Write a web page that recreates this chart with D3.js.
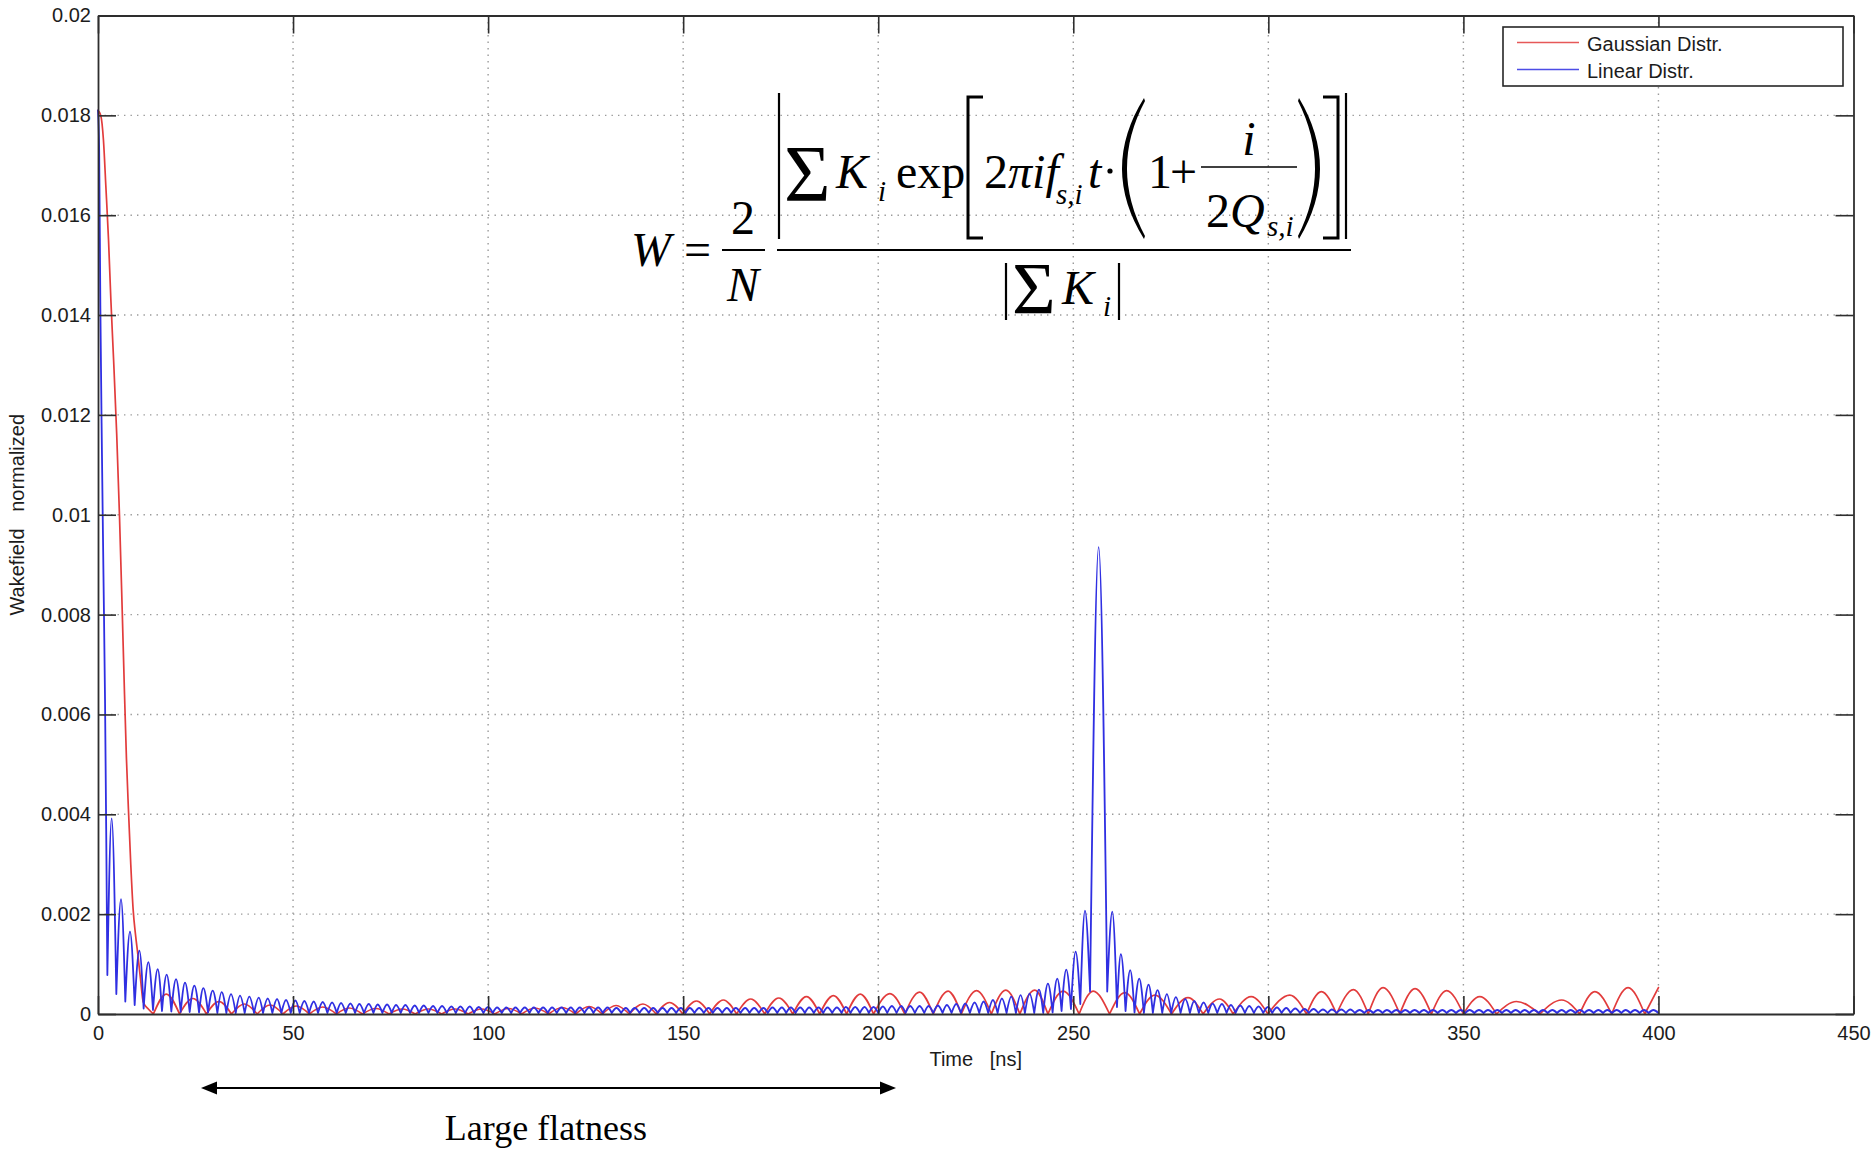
<!DOCTYPE html>
<html>
<head>
<meta charset="utf-8">
<script src="https://cdn.jsdelivr.net/npm/d3@7"></script>
<style>
  html, body { margin: 0; padding: 0; background: #fff; }
  svg { display: block; }
</style>
</head>
<body>
<svg id="chart" width="1874" height="1154"></svg>
<script>
// ---------------- axis definitions ----------------
const xTicks = [0, 50, 100, 150, 200, 250, 300, 350, 400, 450];
const yTicks = [0, 0.002, 0.004, 0.006, 0.008, 0.01, 0.012, 0.014, 0.016, 0.018, 0.02];
const yTickLabels = ["0", "0.002", "0.004", "0.006", "0.008", "0.01", "0.012", "0.014", "0.016", "0.018", "0.02"];
const xTitle = "Time\u00a0\u00a0\u00a0[ns]";
const yTitle = "Wakefield\u00a0\u00a0\u00a0normalized";
const seriesNames = ["Gaussian Distr.", "Linear Distr."];

// ---------------- Gaussian distribution wakefield ----------------
// initial decay (time in ns, normalized wakefield)
const gaussHeadT = [0, 0.7, 1.4, 2.0, 2.7, 3.3, 4.0, 4.8, 5.5, 6.2, 6.8, 7.3, 7.8, 8.4, 9.0, 9.6, 10.2, 10.9, 11.6, 12.9];
const gaussHeadW = [0.0181, 0.0180, 0.0175, 0.0166, 0.0155, 0.0143, 0.0131, 0.0116, 0.0100, 0.0081, 0.0064, 0.0051, 0.0041, 0.0030, 0.0021, 0.0016, 0.0012, 0.0007, 0.00024, 0.0001];
// ripple: minimum before each lobe, then the lobe maximum
const gaussMinT = [14.2, 20.9, 27.8, 34.2, 40.8, 47.4, 54.2, 61.1, 67.8, 74.6, 81.3, 88.1, 94.9, 101.7, 108.6, 115.5, 122.4, 129.3, 136.2, 143.1,
  149.9, 156.8, 163.7, 170.9, 178.1, 185.0, 191.9, 198.8, 206.8, 214.1, 221.3, 229.0, 236.3, 243.5, 251.5, 259.3, 267.0, 275.2, 283.3, 291.0,
  299.9, 309.8, 317.5, 325.6, 333.7, 341.8, 350.0, 358.5, 369.6, 379.8, 388.0, 396.5];
const gaussMinW = [0, 0, 0, 0, 0, 0, 0, 0, 0, 0, 0, 0, 0, 0, 0, 0, 0, 0, 0, 0,
  0, 0, 0, 0, 0, 0, 0, 0, 0, 0, 0, 0, 0, 0, 0, 0, 0, 0, 0, 0,
  0, 0, 0, 0, 0, 0, 0, 0, 0, 0, 0, 0];
const gaussPeakT = [17.5, 24.3, 31.0, 37.5, 44.1, 50.8, 57.6, 64.4, 71.2, 78.0, 84.7, 91.5, 98.3, 105.2, 112.0, 119.0, 125.9, 132.8, 139.7, 146.5,
  153.4, 160.3, 167.3, 174.5, 181.6, 188.5, 195.4, 203.0, 210.6, 217.9, 225.2, 232.7, 240.1, 247.4, 255.1, 263.2, 270.9, 279.4, 287.5, 295.6,
  305.5, 313.6, 321.8, 329.4, 337.6, 345.7, 354.2, 363.6, 375.2, 383.7, 392.2, 400.0];
const gaussPeakW = [0.0004, 0.00031, 0.00025, 0.0002, 0.00018, 0.00016, 0.00014, 0.00012, 0.00011, 0.0001, 0.0001, 0.0001, 0.0001, 0.00011, 0.00012, 0.00013, 0.00015, 0.00017, 0.0002, 0.00023,
  0.00026, 0.00028, 0.0003, 0.00032, 0.00035, 0.00037, 0.0004, 0.00041, 0.00044, 0.00046, 0.00047, 0.00048, 0.00048, 0.00046, 0.00046, 0.00043, 0.00038, 0.00033, 0.0003, 0.00035,
  0.00038, 0.00045, 0.00049, 0.00053, 0.00051, 0.00047, 0.00035, 0.00025, 0.00028, 0.00045, 0.00053, 0.00053];

// ---------------- Linear distribution wakefield ----------------
const linearHeadT = [0, 0.3, 0.6, 1.0, 1.4, 1.8, 2.1];
const linearHeadW = [0.0181, 0.0173, 0.0142, 0.0113, 0.0088, 0.0063, 0.0037];
// lobe maxima
const linearPeakT = [3.5, 5.9, 8.2, 10.6, 12.9, 15.3, 17.6, 20.0, 22.3, 24.7, 27.0, 29.4, 31.7, 34.1, 36.4, 38.8, 41.2, 43.5, 45.9, 48.2,
  50.6, 52.9, 55.3, 57.6, 60.0, 62.3, 64.7, 67.0, 69.4, 71.7, 74.1, 76.4, 78.8, 81.2, 83.5, 85.9, 88.2, 90.6, 92.9, 95.3,
  97.6, 100.0, 102.3, 104.7, 107.0, 109.4, 111.7, 114.1, 116.4, 118.8, 121.2, 123.5, 125.9, 128.2, 130.6, 132.9, 135.3, 137.6, 140.0, 142.3,
  144.7, 147.0, 149.4, 151.7, 154.1, 156.5, 158.8, 161.2, 163.5, 165.9, 168.2, 170.6, 172.9, 175.3, 177.6, 180.0, 182.3, 184.7, 187.0, 189.4,
  191.7, 194.1, 196.5, 198.8, 201.2, 203.5, 205.9, 208.2, 210.6, 212.9, 215.3, 217.6, 220.0, 222.3, 224.7, 227.0, 229.4, 231.7, 234.1, 236.5,
  238.8, 241.2, 243.5, 245.9, 248.2, 250.6, 253.0, 256.5, 260.0, 262.2, 264.6, 266.9, 269.3, 271.6, 274.0, 276.3, 278.7, 281.0, 283.4, 285.7,
  288.1, 290.4, 292.8, 295.1, 297.5, 299.9, 302.2, 304.6, 306.9, 309.3, 311.6, 314.0, 316.3, 318.7, 321.0, 323.4, 325.7, 328.1, 330.4, 332.8,
  335.1, 337.5, 339.9, 342.2, 344.6, 346.9, 349.3, 351.6, 354.0, 356.3, 358.7, 361.0, 363.4, 365.7, 368.1, 370.4, 372.8, 375.2, 377.5, 379.9,
  382.2, 384.6, 386.9, 389.3, 391.6, 394.0, 396.3, 398.7];
const linearPeakW = [0.00392, 0.0023, 0.00165, 0.00127, 0.00104, 0.0009, 0.00079, 0.0007, 0.00063, 0.00057, 0.00052, 0.00047, 0.00044, 0.0004, 0.00037, 0.00035, 0.00033, 0.00031, 0.0003, 0.00028,
  0.00027, 0.00026, 0.00025, 0.00024, 0.00023, 0.00022, 0.00021, 0.0002, 0.0002, 0.00019, 0.00019, 0.00018, 0.00018, 0.00017, 0.00017, 0.00016, 0.00016, 0.00015, 0.00015, 0.00015,
  0.00014, 0.00014, 0.00013, 0.00013, 0.00013, 0.00013, 0.00013, 0.00013, 0.00013, 0.00013, 0.00013, 0.00013, 0.00013, 0.00013, 0.00013, 0.00012, 0.00012, 0.00012, 0.00012, 0.00012,
  0.00012, 0.00012, 0.00012, 0.00012, 0.00012, 0.00012, 0.00012, 0.00012, 0.00012, 0.00012, 0.00012, 0.00012, 0.00013, 0.00013, 0.00013, 0.00013, 0.00013, 0.00013, 0.00013, 0.00013,
  0.00014, 0.00014, 0.00014, 0.00014, 0.00015, 0.00016, 0.00016, 0.00016, 0.00016, 0.00016, 0.00017, 0.00018, 0.0002, 0.00021, 0.00023, 0.00025, 0.00028, 0.00031, 0.00035, 0.00038,
  0.00041, 0.00049, 0.00061, 0.00071, 0.00089, 0.00125, 0.00207, 0.00935, 0.00205, 0.0012, 0.00088, 0.00071, 0.00059, 0.00048, 0.0004, 0.00034, 0.0003, 0.00026, 0.00023, 0.00021,
  0.0002, 0.00018, 0.00017, 0.00016, 0.00015, 0.00014, 0.00013, 0.00012, 0.00011, 0.0001, 0.0001, 0.00009, 0.00009, 0.00009, 0.00009, 0.00008, 0.00008, 0.00008, 0.00008, 0.00008,
  0.00008, 0.00008, 0.00008, 0.00008, 0.00008, 0.00008, 0.00008, 0.00008, 0.00008, 0.00008, 0.00008, 0.00008, 0.00008, 0.00008, 0.00008, 0.00008, 0.00008, 0.00008, 0.00008, 0.00008,
  0.00008, 0.00008, 0.00008, 0.00008, 0.00008, 0.00008, 0.00008, 0.00008];
// minimum before each lobe, plus the final sample
const linearMinT = [2.4, 4.7, 7.0, 9.4, 11.7, 14.1, 16.4, 18.8, 21.2, 23.5, 25.9, 28.2, 30.6, 32.9, 35.3, 37.6, 40.0, 42.3, 44.7, 47.0,
  49.4, 51.7, 54.1, 56.4, 58.8, 61.2, 63.5, 65.9, 68.2, 70.6, 72.9, 75.3, 77.6, 80.0, 82.3, 84.7, 87.0, 89.4, 91.7, 94.1,
  96.4, 98.8, 101.2, 103.5, 105.9, 108.2, 110.6, 112.9, 115.3, 117.6, 120.0, 122.3, 124.7, 127.0, 129.4, 131.7, 134.1, 136.4, 138.8, 141.2,
  143.5, 145.9, 148.2, 150.6, 152.9, 155.3, 157.6, 160.0, 162.3, 164.7, 167.0, 169.4, 171.7, 174.1, 176.4, 178.8, 181.2, 183.5, 185.9, 188.2,
  190.6, 192.9, 195.3, 197.6, 200.0, 202.3, 204.7, 207.0, 209.4, 211.8, 214.1, 216.5, 218.8, 221.2, 223.5, 225.9, 228.2, 230.6, 232.9, 235.3,
  237.6, 240.0, 242.3, 244.7, 247.0, 249.4, 251.8, 254.3, 258.7, 261.2, 263.4, 265.7, 268.1, 270.4, 272.8, 275.1, 277.5, 279.9, 282.2, 284.6,
  286.9, 289.3, 291.6, 294.0, 296.3, 298.7, 301.0, 303.4, 305.7, 308.1, 310.4, 312.8, 315.2, 317.5, 319.9, 322.2, 324.6, 326.9, 329.3, 331.6,
  334.0, 336.3, 338.7, 341.0, 343.4, 345.7, 348.1, 350.5, 352.8, 355.2, 357.5, 359.9, 362.2, 364.6, 366.9, 369.3, 371.6, 374.0, 376.3, 378.7,
  381.0, 383.4, 385.8, 388.1, 390.5, 392.8, 395.2, 397.5, 400.0];
const linearMinW = [0.00078, 0.0004, 0.00025, 0.00018, 0.00011, 0.00008, 0.00006, 0.00005, 0.00004, 0.00004, 0.00003, 0.00003, 0.00002, 0.00002, 0.00002, 0.00002, 0.00002, 0.00002, 0.00002, 0.00002,
  0.00002, 0.00002, 0.00002, 0.00002, 0.00002, 0.00002, 0.00002, 0.00002, 0.00002, 0.00002, 0.00002, 0.00002, 0.00002, 0.00002, 0.00002, 0.00002, 0.00002, 0.00002, 0.00002, 0.00002,
  0.00002, 0.00002, 0.00002, 0.00002, 0.00002, 0.00002, 0.00002, 0.00002, 0.00002, 0.00002, 0.00002, 0.00002, 0.00002, 0.00002, 0.00002, 0.00002, 0.00002, 0.00002, 0.00002, 0.00002,
  0.00002, 0.00002, 0.00002, 0.00002, 0.00002, 0.00002, 0.00002, 0.00002, 0.00002, 0.00002, 0.00002, 0.00002, 0.00002, 0.00002, 0.00002, 0.00002, 0.00002, 0.00002, 0.00002, 0.00002,
  0.00002, 0.00002, 0.00002, 0.00002, 0.00002, 0.00002, 0.00002, 0.00002, 0.00002, 0.00002, 0.00002, 0.00002, 0.00002, 0.00002, 0.00002, 0.00002, 0.00002, 0.00002, 0.00002, 0.00002,
  0.00002, 0.00002, 0.00002, 0.00003, 0.00006, 0.0001, 0.0002, 0.00045, 0.00045, 0.00014, 0.00006, 0.00003, 0.00002, 0.00002, 0.00002, 0.00002, 0.00002, 0.00002, 0.00002, 0.00002,
  0.00002, 0.00002, 0.00002, 0.00002, 0.00002, 0.00002, 0.00002, 0.00002, 0.00002, 0.00002, 0.00002, 0.00002, 0.00002, 0.00002, 0.00002, 0.00002, 0.00002, 0.00002, 0.00002, 0.00002,
  0.00002, 0.00002, 0.00002, 0.00002, 0.00002, 0.00002, 0.00002, 0.00002, 0.00002, 0.00002, 0.00002, 0.00002, 0.00002, 0.00002, 0.00002, 0.00002, 0.00002, 0.00002, 0.00002, 0.00002,
  0.00002, 0.00002, 0.00002, 0.00002, 0.00002, 0.00002, 0.00002, 0.00002, 0.00002];

// ---------------- layout ----------------
const svg = d3.select("#chart");
const plot = { left: 98, right: 1853.5, top: 15.5, bottom: 1014 };
const x = d3.scaleLinear().domain([0, 450]).range([plot.left, plot.right]);
const y = d3.scaleLinear().domain([0, 0.02]).range([plot.bottom, plot.top]);

const sansFont = "'Liberation Sans', Arial, Helvetica, sans-serif";
const serifFont = "'Liberation Serif', 'Times New Roman', Times, serif";
const frameColor = "#2e2e2e";
const gaussColor = "#e23c3c";
const linearColor = "#2f2fe2";

// dotted grid
const grid = svg.append("g").attr("class", "grid")
  .attr("stroke", "#9a9a9a").attr("stroke-width", 1.4).attr("stroke-dasharray", "1.4 5.1");
grid.selectAll("line.gx").data(xTicks.slice(1, -1)).join("line").attr("class", "gx")
  .attr("x1", d => x(d)).attr("x2", d => x(d)).attr("y1", plot.top).attr("y2", plot.bottom);
grid.selectAll("line.gy").data(yTicks.slice(1, -1)).join("line").attr("class", "gy")
  .attr("x1", plot.left).attr("x2", plot.right).attr("y1", d => y(d)).attr("y2", d => y(d));

// build the waveform pieces: each lobe is its own smooth arc so the minima stay sharp
function lobeSegments(headT, headW, minT, minW, peakT, peakW) {
  const segs = [];
  const head = headT.map((t, i) => [t, headW[i]]);
  head.push([minT[0], minW[0]]);
  segs.push(head);
  for (let i = 0; i < peakT.length; i++) {
    const s = [[minT[i], minW[i]], [peakT[i], peakW[i]]];
    if (i + 1 < minT.length) s.push([minT[i + 1], minW[i + 1]]);
    segs.push(s);
  }
  return segs;
}
const line = d3.line().x(d => x(d[0])).y(d => y(d[1])).curve(d3.curveMonotoneX);

const series = [
  { name: seriesNames[0], color: gaussColor, width: 1.7,
    segs: lobeSegments(gaussHeadT, gaussHeadW, gaussMinT, gaussMinW, gaussPeakT, gaussPeakW) },
  { name: seriesNames[1], color: linearColor, width: 1.8,
    segs: lobeSegments(linearHeadT, linearHeadW, linearMinT, linearMinW, linearPeakT, linearPeakW) }
];

svg.append("g").attr("class", "series")
  .selectAll("path").data(series).join("path")
  .attr("fill", "none")
  .attr("stroke", d => d.color)
  .attr("stroke-width", d => d.width)
  .attr("stroke-linejoin", "round")
  .attr("stroke-linecap", "round")
  .attr("d", d => d.segs.map(s => line(s)).join(""));

// axes: MATLAB-style box with inward ticks on all sides
const tickLen = 18;
function styleAxis(g) {
  g.select(".domain").attr("stroke", frameColor).attr("stroke-width", 1.8);
  g.selectAll(".tick line").attr("stroke", frameColor).attr("stroke-width", 1.6);
  g.selectAll(".tick text").attr("fill", "#1c1c1c").style("font-family", sansFont).style("font-size", "20px");
}
svg.append("g").attr("transform", `translate(0,${plot.bottom})`)
  .call(d3.axisBottom(x).tickValues(xTicks).tickSizeInner(-tickLen).tickSizeOuter(0).tickPadding(12).tickFormat(d3.format("d")))
  .call(styleAxis);
svg.append("g").attr("transform", `translate(0,${plot.top})`)
  .call(d3.axisTop(x).tickValues(xTicks).tickSizeInner(-tickLen).tickSizeOuter(0).tickFormat(""))
  .call(styleAxis);
svg.append("g").attr("transform", `translate(${plot.left},0)`)
  .call(d3.axisLeft(y).tickValues(yTicks).tickSizeInner(-tickLen).tickSizeOuter(0).tickPadding(7)
    .tickFormat((d, i) => yTickLabels[i]))
  .call(styleAxis);
svg.append("g").attr("transform", `translate(${plot.right},0)`)
  .call(d3.axisRight(y).tickValues(yTicks).tickSizeInner(-tickLen).tickSizeOuter(0).tickFormat(""))
  .call(styleAxis);
svg.selectAll(".domain").attr("fill", "none");

// axis titles
svg.append("text")
  .attr("x", (plot.left + plot.right) / 2).attr("y", 1066)
  .attr("text-anchor", "middle")
  .style("font-family", sansFont).style("font-size", "20px").attr("fill", "#1c1c1c")
  .text(xTitle);
svg.append("text")
  .attr("transform", `translate(24,${(plot.top + plot.bottom) / 2}) rotate(-90)`)
  .attr("text-anchor", "middle")
  .style("font-family", sansFont).style("font-size", "20px").attr("fill", "#1c1c1c")
  .text(yTitle);

// legend
const legend = svg.append("g").attr("class", "legend");
legend.append("rect")
  .attr("x", 1503).attr("y", 27).attr("width", 340).attr("height", 59)
  .attr("fill", "#fff").attr("stroke", "#262626").attr("stroke-width", 1.6);
const items = legend.selectAll("g.item").data(series).join("g").attr("class", "item")
  .attr("transform", (d, i) => `translate(0,${42.5 + i * 27})`);
items.append("line").attr("x1", 1517).attr("x2", 1579).attr("y1", 0).attr("y2", 0)
  .attr("stroke", d => d.color).attr("stroke-width", 1.6).attr("opacity", 0.85);
items.append("text").attr("x", 1587).attr("y", 8)
  .style("font-family", sansFont).style("font-size", "20px").attr("fill", "#1c1c1c")
  .text(d => d.name);

// ---------------- wakefield formula ----------------
const f = svg.append("g").attr("class", "formula").attr("fill", "#000");
function ftext(xp, yp, str, size, italic, anchor) {
  return f.append("text").attr("x", xp).attr("y", yp)
    .attr("text-anchor", anchor || "start")
    .style("font-family", serifFont).style("font-size", size + "px")
    .style("font-style", italic ? "italic" : "normal")
    .text(str);
}
function fline(x1, y1, x2, y2, w) {
  f.append("line").attr("x1", x1).attr("y1", y1).attr("x2", x2).attr("y2", y2)
    .attr("stroke", "#000").attr("stroke-width", w);
}
const mainSize = 48, subSize = 29;
ftext(631, 266, "W", mainSize, true);
ftext(684, 266, "=", mainSize, false);
ftext(743, 234, "2", mainSize, false, "middle");
fline(722, 250, 765, 250, 2);
ftext(743, 301, "N", mainSize, true, "middle");
fline(777, 250, 1351, 250, 2.2);

// numerator
fline(779, 93, 779, 239, 2.2);
ftext(784, 201, "\u03a3", 80, false);
ftext(836, 188, "K", mainSize, true);
ftext(878, 201, "i", subSize, true);
ftext(896, 188, "exp", mainSize, false);
f.append("path").attr("d", "M983,97 L968,97 L968,238 L983,238").attr("fill", "none").attr("stroke", "#000").attr("stroke-width", 3);
const arg = ftext(984, 188, "", mainSize, false);
arg.append("tspan").text("2");
arg.append("tspan").style("font-style", "italic").text("\u03c0if");
ftext(1056, 204, "s,i", subSize, true);
ftext(1088, 188, "t", mainSize, true);
f.append("circle").attr("cx", 1110).attr("cy", 171).attr("r", 2.6);
f.append("path").attr("d", "M1144,98 Q1100,168.5 1144,239 L1145,236 Q1109,168.5 1145,101 Z");
ftext(1148, 188, "1", mainSize, false);
ftext(1170, 188, "+", mainSize, false);
ftext(1249, 155, "i", mainSize, true, "middle");
fline(1201, 167, 1297, 167, 1.6);
const den2 = ftext(1206, 227, "", mainSize, false);
den2.append("tspan").text("2");
den2.append("tspan").style("font-style", "italic").text("Q");
ftext(1267, 236, "s,i", subSize, true);
f.append("path").attr("d", "M1299,98 Q1341,168.5 1299,239 L1298,236 Q1332,168.5 1298,101 Z");
f.append("path").attr("d", "M1323,97 L1338,97 L1338,238 L1323,238").attr("fill", "none").attr("stroke", "#000").attr("stroke-width", 3);
fline(1346, 93, 1346, 239, 2.2);

// denominator
fline(1006, 263, 1006, 320, 2.2);
ftext(1012, 314, "\u03a3", 75, false);
ftext(1062, 304, "K", mainSize, true);
ftext(1103, 316, "i", subSize, true);
fline(1119, 263, 1119, 320, 2.2);

// ---------------- flat-region annotation ----------------
const ann = svg.append("g").attr("class", "annotation");
ann.append("line").attr("x1", 214).attr("x2", 883).attr("y1", 1088).attr("y2", 1088)
  .attr("stroke", "#000").attr("stroke-width", 2.2);
ann.append("path").attr("d", "M201,1088 L217,1081.5 L217,1094.5 Z").attr("fill", "#000");
ann.append("path").attr("d", "M896,1088 L880,1081.5 L880,1094.5 Z").attr("fill", "#000");
ann.append("text").attr("x", 546).attr("y", 1140).attr("text-anchor", "middle")
  .style("font-family", serifFont).style("font-size", "36px").attr("fill", "#000")
  .text("Large flatness");
</script>
</body>
</html>
